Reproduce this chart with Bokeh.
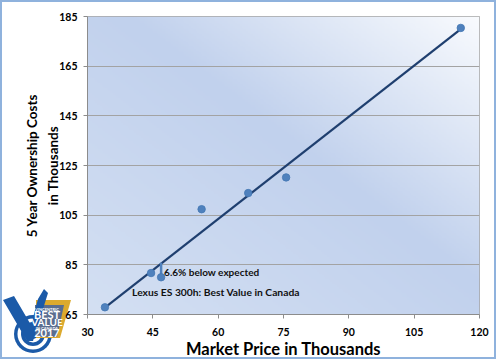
import urllib.parse
import numpy as np
from bokeh.plotting import figure
from bokeh.models import FixedTicker, Range1d
from bokeh.core.properties import value
from bokeh.embed import file_html
from bokeh.resources import INLINE

# ---------------- data ----------------
market_price = [34.0, 44.6, 46.9, 56.2, 66.9, 75.6, 115.7]
ownership_cost = [67.9, 81.7, 80.0, 107.4, 113.9, 120.2, 180.4]
x_ticks = [30, 45, 60, 75, 90, 105, 120]
y_ticks = [65, 85, 105, 125, 145, 165, 185]
highlight_index = 2
highlight_note = "6.6% below expected"
highlight_label = "Lexus ES 300h: Best Value in Canada"
x_title = "Market Price in Thousands"
y_title = "5 Year Ownership Costs\nin Thousands"

FONT = "Lato"
x0, x1 = x_ticks[0], x_ticks[-1]
y0, y1 = y_ticks[0], y_ticks[-1]

# ---------------- logo (CSS background decoration) ----------------
LB = "#1b5aa8"
logo_svg = f'''<svg xmlns="http://www.w3.org/2000/svg" width="80" height="83" viewBox="0 280 80 83">
<circle cx="33" cy="334" r="19" fill="{LB}"/>
<circle cx="33" cy="334" r="15.5" fill="white"/>
<circle cx="33" cy="334" r="12" fill="{LB}"/>
<circle cx="33" cy="334" r="8.5" fill="white"/>
<circle cx="33" cy="334" r="5" fill="{LB}"/>
<polygon points="36,300 71,300 60,338 36,338" fill="#dcaa2e"/>
<polygon points="35,305 64,305 57,337 35,337" fill="#5a6e90"/>
<polygon points="3,300 14,296 31,325 38,299 44,289 48,293 33,341 27,341" fill="{LB}"/>
<g font-family="Lato" font-weight="bold" fill="white" text-anchor="middle">
<text x="47" y="310.5" font-size="4">VINCENTRIC</text>
<text x="47" y="318.5" font-size="11">BEST</text>
<text x="47" y="326" font-size="10">VALUE</text>
<text x="47" y="329.8" font-size="4">IN CANADA</text>
<text x="47" y="337" font-size="11">2017</text>
</g></svg>'''
logo_uri = "data:image/svg+xml," + urllib.parse.quote(logo_svg)

W, H = 496, 359
p = figure(width=W, height=H, output_backend="svg", toolbar_location=None,
           x_range=Range1d(x0, x1), y_range=Range1d(y0, y1),
           min_border_left=85, min_border_right=19, min_border_top=14, min_border_bottom=44,
           background_fill_color="white", border_fill_color=None)
p.styles = {
    "border": "2px solid #8fb2dd",
    "background-color": "white",
    "background-image": f'url("{logo_uri}")',
    "background-repeat": "no-repeat",
    "background-position": "-2px 278px",
    "background-size": "80px 83px",
}

# gradient plot background
nx, ny = 240, 180
u = np.linspace(0, 1, nx)[None, :]
v = np.linspace(0, 1, ny)[:, None]
s = ((1 - u) + (1 - v)) / 2
white = np.array([249, 251, 254], dtype=float)
blue = np.array([193, 209, 237], dtype=float)
light = np.array([212, 224, 243], dtype=float)
t1 = np.clip(s / 0.45, 0, 1)[..., None]
t2 = np.clip((s - 0.45) / 0.55, 0, 1)[..., None]
col = white * (1 - t1) + blue * t1
col = col * (1 - t2) + light * t2
img = np.empty((ny, nx), dtype=np.uint32)
view = img.view(dtype=np.uint8).reshape((ny, nx, 4))
view[..., 0] = col[..., 0].astype(np.uint8)
view[..., 1] = col[..., 1].astype(np.uint8)
view[..., 2] = col[..., 2].astype(np.uint8)
view[..., 3] = 255
p.image_rgba(image=[img], x=x0, y=y0, dw=x1 - x0, dh=y1 - y0, level="image")

p.outline_line_color = "#a6a6a6"
p.outline_line_width = 1
p.xgrid.visible = False
p.ygrid.ticker = FixedTicker(ticks=y_ticks)
p.ygrid.grid_line_color = "#a3a3a3"
p.ygrid.grid_line_width = 1

for ax, ticks in ((p.xaxis[0], x_ticks), (p.yaxis[0], y_ticks)):
    ax.ticker = FixedTicker(ticks=ticks)
    ax.axis_line_color = "#8c8c8c"
    ax.major_tick_line_color = "#8c8c8c"
    ax.major_tick_out = 4
    ax.major_tick_in = 0
    ax.minor_tick_line_color = None
    ax.major_label_text_font = FONT
    ax.major_label_text_font_style = "bold"
    ax.major_label_text_font_size = "10.5px"
    ax.major_label_text_color = "black"
    ax.axis_label_text_font = FONT
    ax.axis_label_text_font_style = "bold"
    ax.axis_label_text_color = "black"
p.xaxis.axis_label = x_title
p.yaxis.axis_label = y_title
p.xaxis.axis_label_text_font_size = "16.5px"
p.yaxis.axis_label_text_font_size = "13.5px"
p.yaxis.axis_label_text_line_height = 1.35
p.xaxis.major_label_standoff = 9
p.xaxis.axis_label_standoff = 0
p.yaxis.major_label_standoff = 6
p.yaxis.axis_label_standoff = -5

# trend line (least squares fit of the data)
slope, icpt = np.polyfit(market_price, ownership_cost, 1)
tx = [min(market_price), max(market_price)]
ty = [icpt + slope * x for x in tx]
p.line(tx, ty, line_color="#1f3f6f", line_width=2.2)

# highlight
hx = market_price[highlight_index]
hy = ownership_cost[highlight_index]
p.segment(x0=[hx], y0=[hy], x1=[hx], y1=[icpt + slope * hx],
          line_color="#4f81bd", line_width=2.5, line_cap="round")

p.scatter(market_price, ownership_cost, size=7.5, fill_color="#4f81bd",
          line_color="#4477b3", line_width=0.8)

p.text(x=[hx], y=[hy], text=[highlight_note], x_offset=3, y_offset=-5,
       text_baseline="middle", text_align="left", text_font=value(FONT),
       text_font_style="bold", text_font_size="10px", text_color="#111111")
p.text(x=[hx], y=[hy], text=[highlight_label], x_offset=-29, y_offset=15,
       text_baseline="middle", text_align="left", text_font=value(FONT),
       text_font_style="bold", text_font_size="10.3px", text_color="#111111")

open("out.html", "w").write(file_html(p, INLINE))
